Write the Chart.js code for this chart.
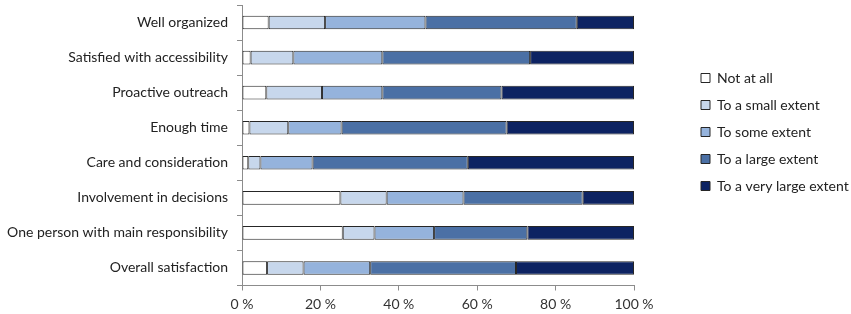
<!DOCTYPE html>
<html>
<head>
<meta charset="utf-8">
<script src="https://cdn.jsdelivr.net/npm/chart.js@4"></script>
<style>
  html, body { margin: 0; padding: 0; background: #fff; }
  #wrap { width: 851px; height: 314px; position: relative; }
</style>
</head>
<body>
<div id="wrap"><canvas id="chart"></canvas></div>
<script>
const categories = [
  "Well organized",
  "Satisfied with accessibility",
  "Proactive outreach",
  "Enough time",
  "Care and consideration",
  "Involvement in decisions",
  "One person with main responsibility",
  "Overall satisfaction"
];

const seriesNames = [
  "Not at all",
  "To a small extent",
  "To some extent",
  "To a large extent",
  "To a very large extent"
];

// shares in %, one value per category (top to bottom)
const notAtAll    = [6.8, 2.2, 6.2, 1.9, 1.6, 25.1, 25.7, 6.4];
const smallExtent = [14.4, 10.9, 14.2, 9.9, 3.1, 11.8, 8.1, 9.3];
const someExtent  = [25.6, 22.7, 15.4, 13.6, 13.3, 19.6, 15.2, 17.0];
const largeExtent = [38.6, 37.7, 30.4, 42.1, 39.6, 30.4, 23.8, 37.2];
const veryLarge   = [14.6, 26.5, 33.8, 32.5, 42.4, 13.1, 27.2, 30.1];

const xTicks = [0, 20, 40, 60, 80, 100];

const colors = ["#ffffff", "#c7d7ec", "#95b3dc", "#4b70a5", "#0d2362"];
const seriesData = [notAtAll, smallExtent, someExtent, largeExtent, veryLarge];

const FONT = "Lato, 'Open Sans', sans-serif";
const FS = 14;
const LEGEND_W = 217;   // space right of the plot
const LEGEND_X = 701;   // left edge of legend boxes
const LEGEND_Y = 78;    // centre of first legend row

// keep the legend in the spot it has in the original
const legendSpot = {
  id: "legendSpot",
  beforeUpdate(chart) {
    const lg = chart.legend;
    if (lg && !lg._spotPatched) {
      const fit = lg.fit.bind(lg);
      lg.fit = function () {
        fit();
        this.width = LEGEND_W;
      };
      lg._spotPatched = true;
    }
  },
  afterLayout(chart) {
    const lg = chart.legend;
    const pad = lg.options.labels.padding;
    const fs = lg.options.labels.font.size;
    lg.left = LEGEND_X - pad;
    lg.right = chart.width;
    lg.top = LEGEND_Y - fs / 2 - pad;
  }
};

new Chart(document.getElementById("chart"), {
  type: "bar",
  data: {
    labels: categories,
    datasets: seriesNames.map((name, i) => ({
      label: name,
      data: seriesData[i],
      backgroundColor: colors[i],
      borderColor: "#262626",
      borderWidth: 1,
      borderSkipped: false,
      barPercentage: 0.39,
      categoryPercentage: 1
    }))
  },
  options: {
    indexAxis: "y",
    responsive: true,
    maintainAspectRatio: false,
    animation: false,
    layout: { padding: { top: 5, right: 0, bottom: 0, left: 0 } },
    plugins: {
      tooltip: { enabled: false },
      legend: {
        position: "right",
        align: "start",
        labels: {
          boxWidth: 9,
          boxHeight: 9,
          padding: 13,
          color: "#222",
          font: { family: FONT, size: FS }
        }
      }
    },
    scales: {
      x: {
        stacked: true,
        min: 0,
        max: 100,
        afterBuildTicks: (scale) => {
          scale.ticks = xTicks.map(v => ({ value: v }));
        },
        afterFit: (scale) => { scale.height = 28.5; },
        grid: {
          drawOnChartArea: false,
          tickLength: 5,
          color: "#8c8c8c"
        },
        border: { color: "#8c8c8c" },
        ticks: {
          padding: 6,
          color: "#333",
          font: { family: FONT, size: FS },
          maxRotation: 0,
          callback: (v) => v + " %"
        }
      },
      y: {
        stacked: true,
        afterFit: (scale) => {
          scale.width = 242;
          scale.paddingTop = 0;
          scale.paddingBottom = 0;
        },
        grid: {
          drawOnChartArea: false,
          tickLength: 5,
          color: "#8c8c8c"
        },
        border: { color: "#8c8c8c" },
        ticks: {
          padding: 9,
          color: "#222",
          font: { family: FONT, size: FS }
        }
      }
    }
  },
  plugins: [legendSpot]
});
</script>
</body>
</html>
